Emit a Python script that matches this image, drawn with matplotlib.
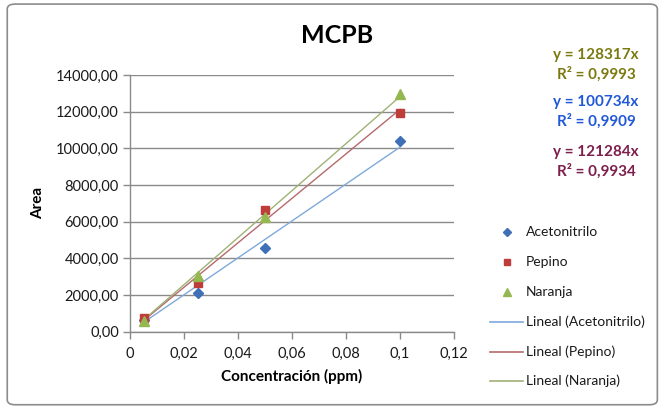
import matplotlib
matplotlib.use("Agg")
import matplotlib.pyplot as plt
from matplotlib.patches import FancyBboxPatch
from matplotlib.lines import Line2D
from matplotlib.ticker import FuncFormatter, MultipleLocator
import numpy as np

plt.rcParams['font.family'] = ['Lato', 'DejaVu Sans']

conc = [0.005, 0.025, 0.05, 0.1]
acetonitrilo = [620, 2100, 4540, 10420]
pepino = [770, 2660, 6620, 11950]
naranja = [560, 3020, 6260, 12950]

slopes = {"Acetonitrilo": 100734, "Pepino": 121284, "Naranja": 128317}
r2 = {"Acetonitrilo": "0,9909", "Pepino": "0,9934", "Naranja": "0,9993"}

x_ticks = [0, 0.02, 0.04, 0.06, 0.08, 0.1, 0.12]
x_tick_labels = ["0", "0,02", "0,04", "0,06", "0,08", "0,1", "0,12"]

series = [
    ("Acetonitrilo", acetonitrilo, "D", "#3f6fb6", "#7ea9da", 5.5),
    ("Pepino", pepino, "s", "#be3c3a", "#b46a6c", 6),
    ("Naranja", naranja, "^", "#94b84f", "#9fb276", 7),
]

fig = plt.figure(figsize=(6.6, 4.08), dpi=100)
fig.patch.set_facecolor("white")

# rounded chart-area frame
frame = FancyBboxPatch((0.011, 0.008), 0.985, 0.982,
                       boxstyle="round,pad=0,rounding_size=0.012",
                       transform=fig.transFigure, facecolor="white",
                       edgecolor="#8c8c8c", linewidth=1.2, zorder=-10)
fig.patches.append(frame)

ax = fig.add_axes([0.197, 0.187, 0.491, 0.629])
ax.set_zorder(1)
ax.set_facecolor("none")
ax.set_xlim(0, 0.12)
ax.set_ylim(0, 14000)
ax.yaxis.set_major_locator(MultipleLocator(2000))
ax.yaxis.set_major_formatter(FuncFormatter(lambda v, p: f"{v:.2f}".replace(".", ",")))
ax.set_xticks(x_ticks)
ax.set_xticklabels(x_tick_labels)
ax.grid(axis="y", color="#8a8a8a", linewidth=1.0)
ax.set_axisbelow(True)
for s in ["top", "right"]:
    ax.spines[s].set_visible(False)
for s in ["left", "bottom"]:
    ax.spines[s].set_color("#8a8a8a")
    ax.spines[s].set_linewidth(1.0)
ax.tick_params(axis="both", colors="#8a8a8a", labelcolor="#1a1a1a",
               labelsize=10.5, length=5, width=1.0)
ax.tick_params(axis="y", pad=3)
ax.tick_params(axis="x", pad=6)

xs = np.array([min(conc), max(conc)])
for name, vals, mk, mc, lc, ms in series:
    ax.plot(xs, slopes[name] * xs, color=lc, linewidth=1.0, zorder=2)
for name, vals, mk, mc, lc, ms in series:
    ax.plot(conc, vals, linestyle="none", marker=mk, markersize=ms,
            color=mc, markeredgecolor=mc, zorder=3)

ax.set_title("MCPB", fontsize=18, fontweight="bold", pad=23, x=0.64)
ax.set_xlabel("Concentración (ppm)", fontsize=11, fontweight="bold", labelpad=6)
ax.set_ylabel("Area", fontsize=11, fontweight="bold", labelpad=8)

# legend block: marker entries, then trendline entries, text left-aligned
W, H = 660.0, 408.0
row_y = [232, 262, 292, 322, 352, 381]
text_x = 526 / W
for i, (name, vals, mk, mc, lc, ms) in enumerate(series):
    y = 1 - row_y[i] / H
    fig.add_artist(Line2D([507 / W], [y], linestyle="none", marker=mk,
                          markersize=ms - 1, color=mc,
                          transform=fig.transFigure))
    fig.text(text_x, y, name, fontsize=10, va="center", ha="left",
             color="#1a1a1a")
for i, (name, vals, mk, mc, lc, ms) in enumerate(series):
    y = 1 - row_y[i + 3] / H
    fig.add_artist(Line2D([490 / W, 523 / W], [y, y], color=lc,
                          linewidth=1.2, transform=fig.transFigure))
    fig.text(text_x, y, f"Lineal ({name})", fontsize=10, va="center",
             ha="left", color="#1a1a1a")

eq = [("Naranja", "#7b7a10", 0.865), ("Acetonitrilo", "#2058d8", 0.75),
      ("Pepino", "#7c1f4c", 0.627)]
for name, col, yy in eq:
    fig.text(0.903, yy, f"y = {slopes[name]}x", color=col, fontsize=11,
             fontweight="bold", ha="center", va="center")
    fig.text(0.903, yy - 0.046, f"R² = {r2[name]}", color=col, fontsize=11,
             fontweight="bold", ha="center", va="center")

fig.savefig("out.png", dpi=100, facecolor="white")
